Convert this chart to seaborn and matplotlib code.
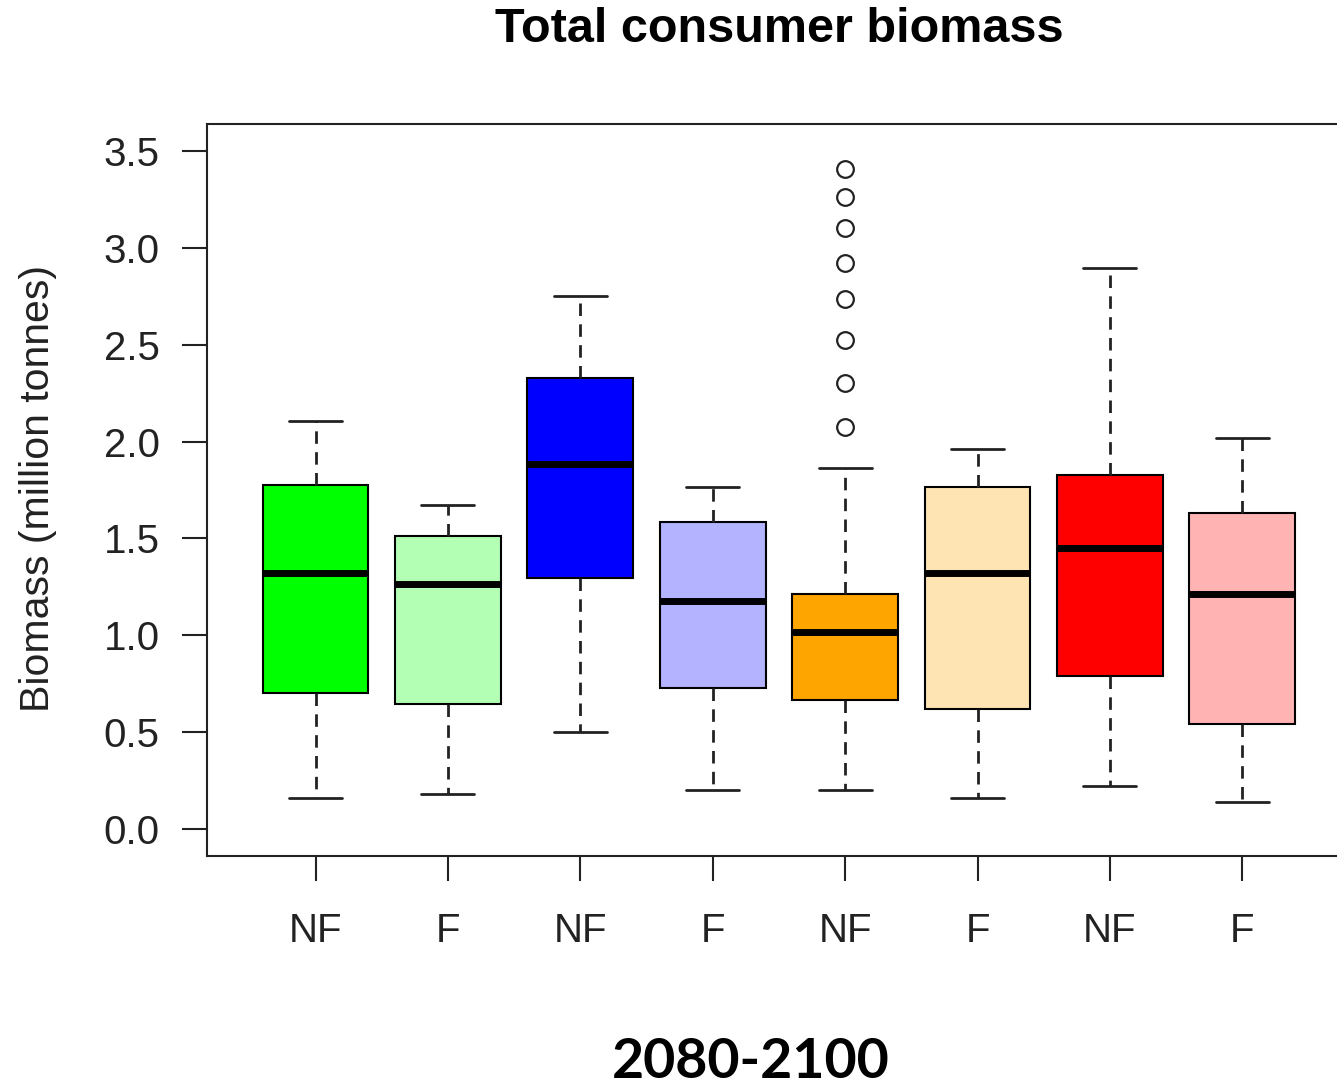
import matplotlib
matplotlib.use("Agg")
import matplotlib.pyplot as plt
import pandas as pd
import seaborn as sns
from matplotlib.ticker import FormatStrFormatter

# five-number summaries (lower whisker, Q1, median, Q3, upper whisker)
groups = ["g1", "g2", "g3", "g4", "g5", "g6", "g7", "g8"]
tick_labels = ["NF", "F", "NF", "F", "NF", "F", "NF", "F"]
colors = ["#00ff00", "#b3ffb3", "#0000ff", "#b3b3ff",
          "#ffa500", "#ffe4b3", "#ff0000", "#ffb3b3"]
whisker_lo = [0.16, 0.18, 0.50, 0.20, 0.20, 0.16, 0.22, 0.14]
q1 = [0.70, 0.645, 1.296, 0.728, 0.666, 0.620, 0.790, 0.542]
median = [1.322, 1.265, 1.884, 1.177, 1.017, 1.322, 1.451, 1.213]
q3 = [1.776, 1.513, 2.328, 1.585, 1.213, 1.766, 1.828, 1.631]
whisker_hi = [2.106, 1.673, 2.752, 1.766, 1.864, 1.962, 2.896, 2.019]

# outliers of the fifth group
outlier_group = "g5"
outliers = [2.075, 2.303, 2.525, 2.736, 2.922, 3.103, 3.263, 3.407]

rows = []
for i, g in enumerate(groups):
    for v in (whisker_lo[i], q1[i], median[i], q3[i], whisker_hi[i]):
        rows.append({"group": g, "value": v})
df = pd.DataFrame(rows)
df_out = pd.DataFrame({"group": [outlier_group] * len(outliers), "value": outliers})

sns.set_style("ticks")
plt.rcParams["font.family"] = ["Liberation Sans", "DejaVu Sans"]
plt.rcParams["axes.linewidth"] = 1.5

fig = plt.figure(figsize=(13.37, 10.88), dpi=100)
ax = fig.add_axes([0.1548, 0.2132, 0.8556, 0.6728])

sns.boxplot(data=df, x="group", y="value", hue="group", order=groups,
            palette=colors, legend=False, width=0.8, saturation=1,
            linecolor="black", linewidth=1.5, showfliers=False,
            whiskerprops={"linestyle": (0, (4.5, 3)), "linewidth": 2,
                          "color": "#222222"},
            capprops={"color": "#222222", "linewidth": 2},
            medianprops={"linewidth": 5, "color": "black"}, ax=ax)

sns.stripplot(data=df_out, x="group", y="value", order=groups, jitter=False,
              marker="o", size=12, color="white", edgecolor="#222222",
              linewidth=1.6, ax=ax)
ax.collections[-1].set_facecolor("none")

ax.set_xlim(-0.82, 7.82)
ax.set_ylim(-0.139, 3.639)
ax.set_xticks(range(len(groups)))
ax.set_xticklabels(tick_labels)
ax.set_yticks([0, 0.5, 1.0, 1.5, 2.0, 2.5, 3.0, 3.5])
ax.yaxis.set_major_formatter(FormatStrFormatter("%.1f"))
ax.tick_params(axis="both", length=18, width=1.5, labelsize=29,
               colors="#222222", labelcolor="#222222")
ax.tick_params(axis="x", pad=22)
ax.tick_params(axis="y", pad=16)
ax.set_xlabel("")
ax.set_ylabel("")
ax.spines["right"].set_visible(False)
for s in ["left", "top", "bottom"]:
    ax.spines[s].set_color("#222222")

fig.text(0.0284, 0.5506, "Biomass (million tonnes)", rotation=90,
         ha="center", va="center", fontsize=29.5, color="#222222")
fig.text(0.5827, 0.9733, "Total consumer biomass", ha="center", va="center",
         fontsize=35, fontweight="bold", color="black")
fig.text(0.5617, 0.0239, "2080-2100", ha="center", va="center",
         fontsize=40, fontweight="bold", color="black", family="Lato")

fig.savefig("out.png", dpi=100)
